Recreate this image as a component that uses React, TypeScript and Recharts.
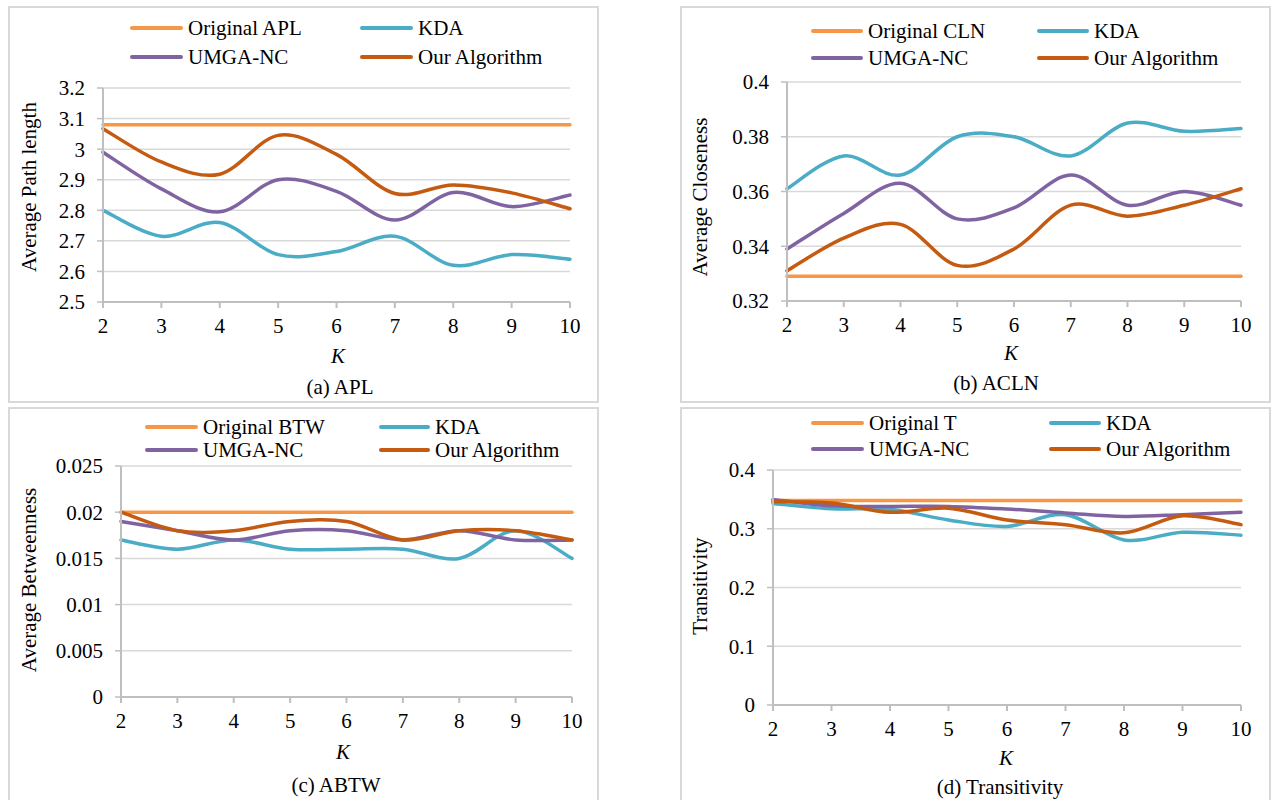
import React from 'react';
import { LineChart, Line, XAxis, YAxis, CartesianGrid } from 'recharts';

const K_VALUES = [2, 3, 4, 5, 6, 7, 8, 9, 10];

// (a) APL
const APL_ORIGINAL = [3.08, 3.08, 3.08, 3.08, 3.08, 3.08, 3.08, 3.08, 3.08];
const APL_KDA = [2.8, 2.715, 2.76, 2.655, 2.665, 2.715, 2.62, 2.655, 2.64];
const APL_UMGA = [2.99, 2.87, 2.795, 2.9, 2.862, 2.768, 2.858, 2.812, 2.85];
const APL_OURS = [3.067, 2.958, 2.918, 3.045, 2.983, 2.855, 2.883, 2.857, 2.805];
const APL_TICKS = [2.5, 2.6, 2.7, 2.8, 2.9, 3.0, 3.1, 3.2];

// (b) ACLN
const CLN_ORIGINAL = [0.329, 0.329, 0.329, 0.329, 0.329, 0.329, 0.329, 0.329, 0.329];
const CLN_KDA = [0.361, 0.373, 0.366, 0.38, 0.38, 0.373, 0.385, 0.382, 0.383];
const CLN_UMGA = [0.339, 0.352, 0.363, 0.35, 0.354, 0.366, 0.355, 0.36, 0.355];
const CLN_OURS = [0.331, 0.343, 0.348, 0.333, 0.339, 0.355, 0.351, 0.355, 0.361];
const CLN_TICKS = [0.32, 0.34, 0.36, 0.38, 0.4];

// (c) ABTW
const BTW_ORIGINAL = [0.02, 0.02, 0.02, 0.02, 0.02, 0.02, 0.02, 0.02, 0.02];
const BTW_KDA = [0.017, 0.016, 0.017, 0.016, 0.016, 0.016, 0.015, 0.018, 0.015];
const BTW_UMGA = [0.019, 0.018, 0.017, 0.018, 0.018, 0.017, 0.018, 0.017, 0.017];
const BTW_OURS = [0.02, 0.018, 0.018, 0.019, 0.019, 0.017, 0.018, 0.018, 0.017];
const BTW_TICKS = [0, 0.005, 0.01, 0.015, 0.02, 0.025];

// (d) Transitivity
const T_ORIGINAL = [0.348, 0.348, 0.348, 0.348, 0.348, 0.348, 0.348, 0.348, 0.348];
const T_KDA = [0.343, 0.334, 0.333, 0.315, 0.304, 0.324, 0.281, 0.294, 0.289];
const T_UMGA = [0.35, 0.339, 0.338, 0.338, 0.3335, 0.327, 0.321, 0.324, 0.328];
const T_OURS = [0.346, 0.344, 0.328, 0.335, 0.315, 0.307, 0.293, 0.322, 0.307];
const T_TICKS = [0, 0.1, 0.2, 0.3, 0.4];

const SERIES_COLORS = ['#F79646', '#4BACC6', '#8064A2', '#C55A11'];
const FONT = "'Liberation Serif', 'Times New Roman', serif";
const FS = 21;

// Excel-like smoothed line (cardinal spline, tension 0)
function excelCurve(context: any) {
  let pts: number[][] = [];
  return {
    areaStart() {},
    areaEnd() {},
    lineStart() {
      pts = [];
    },
    point(x: number, y: number) {
      pts.push([+x, +y]);
    },
    lineEnd() {
      const n = pts.length;
      if (!n) return;
      context.moveTo(pts[0][0], pts[0][1]);
      for (let i = 0; i < n - 1; i++) {
        const p0 = pts[i - 1] || pts[i];
        const p1 = pts[i];
        const p2 = pts[i + 1];
        const p3 = pts[i + 2] || pts[i + 1];
        context.bezierCurveTo(
          p1[0] + (p2[0] - p0[0]) / 6,
          p1[1] + (p2[1] - p0[1]) / 6,
          p2[0] - (p3[0] - p1[0]) / 6,
          p2[1] - (p3[1] - p1[1]) / 6,
          p2[0],
          p2[1]
        );
      }
    },
  };
}

const fmt = (v: number) => String(Number(v.toFixed(4)));

const PANELS = [
  {
    names: ['Original APL', 'KDA', 'UMGA-NC', 'Our Algorithm'],
    series: [APL_ORIGINAL, APL_KDA, APL_UMGA, APL_OURS],
    ticks: APL_TICKS,
    domain: [2.5, 3.2],
    yLabel: 'Average Path length',
    caption: '(a) APL',
    box: { left: 8, top: 6, width: 591, height: 397 },
    plot: { left: 103, right: 570, top: 88, bottom: 302 },
    legend: { rows: [28, 57], cols: [130, 360], text: [188, 418] },
    yLabelPos: { x: 29, y: 187 },
    kPos: { x: 338, y: 356 },
    capPos: { x: 340, y: 387 },
  },
  {
    names: ['Original CLN', 'KDA', 'UMGA-NC', 'Our Algorithm'],
    series: [CLN_ORIGINAL, CLN_KDA, CLN_UMGA, CLN_OURS],
    ticks: CLN_TICKS,
    domain: [0.32, 0.4],
    yLabel: 'Average Closeness',
    caption: '(b) ACLN',
    box: { left: 680, top: 6, width: 591, height: 397 },
    plot: { left: 787, right: 1241, top: 82, bottom: 301 },
    legend: { rows: [31, 58], cols: [811, 1037], text: [868, 1094] },
    yLabelPos: { x: 700, y: 197 },
    kPos: { x: 1011, y: 353 },
    capPos: { x: 996, y: 383 },
  },
  {
    names: ['Original BTW', 'KDA', 'UMGA-NC', 'Our Algorithm'],
    series: [BTW_ORIGINAL, BTW_KDA, BTW_UMGA, BTW_OURS],
    ticks: BTW_TICKS,
    domain: [0, 0.025],
    yLabel: 'Average Betweenness',
    caption: '(c) ABTW',
    box: { left: 8, top: 407, width: 591, height: 400 },
    plot: { left: 121, right: 572, top: 466, bottom: 697 },
    legend: { rows: [427, 450], cols: [145, 379], text: [203, 435] },
    yLabelPos: { x: 29, y: 580 },
    kPos: { x: 343, y: 752 },
    capPos: { x: 336, y: 785 },
  },
  {
    names: ['Original T', 'KDA', 'UMGA-NC', 'Our Algorithm'],
    series: [T_ORIGINAL, T_KDA, T_UMGA, T_OURS],
    ticks: T_TICKS,
    domain: [0, 0.4],
    yLabel: 'Transitivity',
    caption: '(d) Transitivity',
    box: { left: 680, top: 407, width: 591, height: 400 },
    plot: { left: 773, right: 1241, top: 470, bottom: 705 },
    legend: { rows: [423, 449], cols: [811, 1049], text: [869, 1106] },
    yLabelPos: { x: 700, y: 586 },
    kPos: { x: 1006, y: 758 },
    capPos: { x: 1000, y: 787 },
  },
];

const YW = 90;
const TOPM = 12;
const RIGHTM = 14;
const XH = 50;

const textStyle: React.CSSProperties = {
  position: 'absolute',
  fontFamily: FONT,
  fontSize: FS,
  color: '#000',
  whiteSpace: 'nowrap',
  lineHeight: 1.15,
};

function Panel({ p }: { p: (typeof PANELS)[number] }) {
  const data = K_VALUES.map((k, i) => {
    const row: any = { k };
    p.series.forEach((s, j) => {
      row['s' + j] = s[i];
    });
    return row;
  });
  const plotW = p.plot.right - p.plot.left;
  const plotH = p.plot.bottom - p.plot.top;
  const cw = YW + plotW + RIGHTM;
  const ch = TOPM + plotH + XH;
  const tickStyle = { fill: '#000', fontSize: FS, fontFamily: 'Liberation Serif' };
  return (
    <>
      <div
        style={{
          position: 'absolute',
          left: p.box.left,
          top: p.box.top,
          width: p.box.width,
          height: p.box.height,
          border: '2px solid #d9d9d9',
          boxSizing: 'border-box',
          background: '#fff',
        }}
      />
      <div style={{ position: 'absolute', left: p.plot.left - YW, top: p.plot.top - TOPM }}>
        <LineChart width={cw} height={ch} data={data} margin={{ top: TOPM, right: RIGHTM, left: 0, bottom: 0 }}>
          <CartesianGrid vertical={false} stroke="#d9d9d9" strokeWidth={1.5} />
          <XAxis
            dataKey="k"
            type="number"
            domain={[2, 10]}
            ticks={K_VALUES}
            interval={0}
            height={XH}
            tickSize={6}
            tickMargin={10}
            tick={tickStyle}
            axisLine={{ stroke: '#bfbfbf', strokeWidth: 2 }}
            tickLine={{ stroke: '#bfbfbf', strokeWidth: 2 }}
          />
          <YAxis
            type="number"
            domain={p.domain}
            ticks={p.ticks}
            interval={0}
            width={YW}
            tickSize={6}
            tickMargin={12}
            tick={tickStyle}
            tickFormatter={fmt}
            axisLine={{ stroke: '#bfbfbf', strokeWidth: 2 }}
            tickLine={{ stroke: '#bfbfbf', strokeWidth: 1.5 }}
          />
          {p.series.map((_, j) => (
            <Line
              key={j}
              dataKey={'s' + j}
              name={p.names[j]}
              type={excelCurve as any}
              stroke={SERIES_COLORS[j]}
              strokeWidth={3.5}
              strokeLinecap="round"
              dot={false}
              activeDot={false}
              isAnimationActive={false}
            />
          ))}
        </LineChart>
      </div>
      {p.names.map((name, j) => {
        const row = Math.floor(j / 2);
        const col = j % 2;
        const y = p.legend.rows[row];
        return (
          <React.Fragment key={name}>
            <div
              style={{
                position: 'absolute',
                left: p.legend.cols[col],
                top: y - 2,
                width: p.legend.text[col] - p.legend.cols[col] - 5,
                height: 4,
                borderRadius: 2,
                background: SERIES_COLORS[j],
              }}
            />
            <div style={{ ...textStyle, left: p.legend.text[col], top: y, transform: 'translateY(-50%)' }}>{name}</div>
          </React.Fragment>
        );
      })}
      <div
        style={{
          ...textStyle,
          left: p.yLabelPos.x,
          top: p.yLabelPos.y,
          transform: 'translate(-50%, -50%) rotate(-90deg)',
        }}
      >
        {p.yLabel}
      </div>
      <div style={{ ...textStyle, left: p.kPos.x, top: p.kPos.y, transform: 'translate(-50%, -50%)', fontStyle: 'italic' }}>
        K
      </div>
      <div style={{ ...textStyle, left: p.capPos.x, top: p.capPos.y, transform: 'translate(-50%, -50%)' }}>{p.caption}</div>
    </>
  );
}

export default function App() {
  return (
    <div
      style={{
        position: 'absolute',
        left: 0,
        top: 0,
        width: 1272,
        height: 800,
        overflow: 'hidden',
        background: '#fff',
        fontFamily: FONT,
      }}
    >
      {PANELS.map((p, i) => (
        <Panel key={i} p={p} />
      ))}
    </div>
  );
}
